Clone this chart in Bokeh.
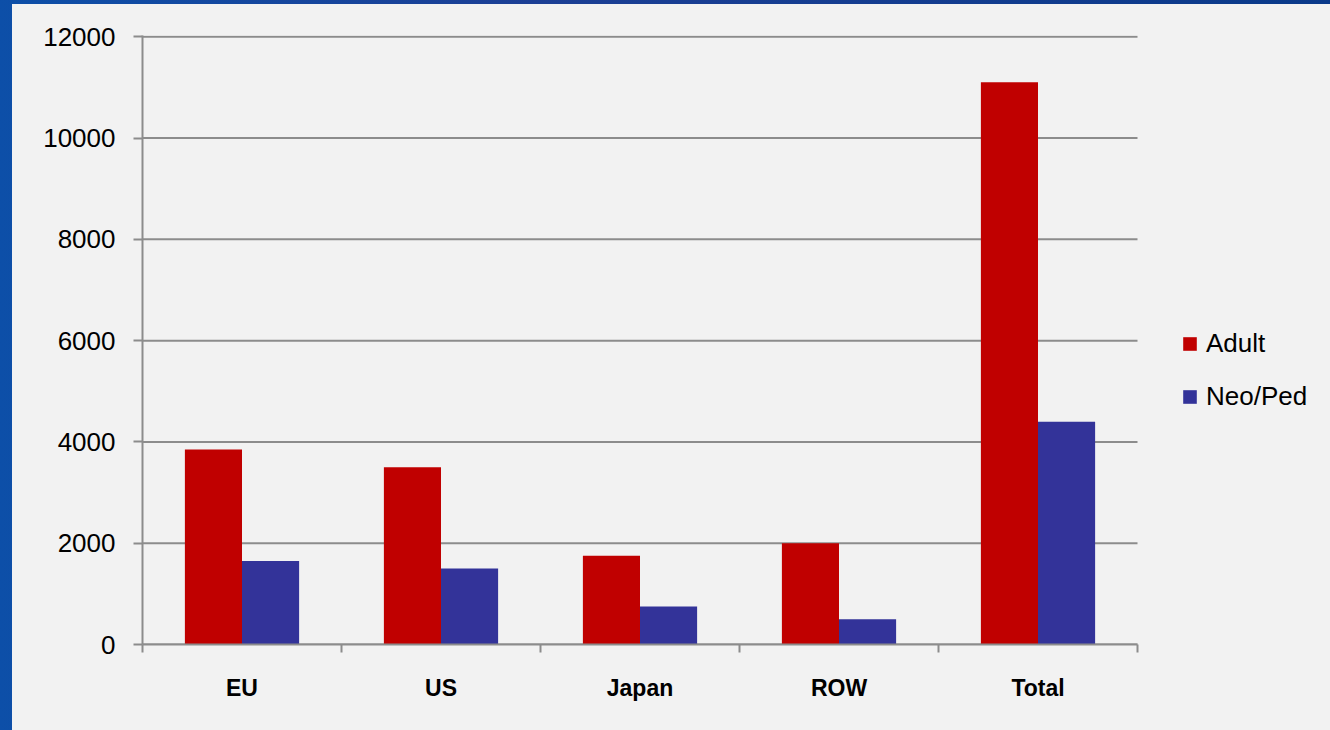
from bokeh.plotting import figure
from bokeh.models import ColumnDataSource, FixedTicker, Legend, LegendItem, Range1d
from bokeh.transform import dodge
from bokeh.layouts import column
from bokeh.embed import file_html
from bokeh.resources import INLINE

categories = ["EU", "US", "Japan", "ROW", "Total"]
adult = [3850, 3500, 1750, 2000, 11100]
neo_ped = [1650, 1500, 750, 500, 4400]
y_ticks = [0, 2000, 4000, 6000, 8000, 10000, 12000]

n = len(categories)
positions = [i + 0.5 for i in range(n)]
src = ColumnDataSource(dict(x=positions, adult=adult, neo=neo_ped))

RED = "#c00000"
BLUE = "#333399"
BG = "#f2f2f2"
GRAY = "#8c8c8c"

# frame extends into the legend area; chart area covers 995 of 1188 px
x_end = n * 1188 / 995
p = figure(width=1318, height=726, output_backend="svg", toolbar_location=None,
           x_range=Range1d(0, x_end), y_range=Range1d(0, 12025),
           background_fill_color=BG, border_fill_color=BG, outline_line_color=None,
           min_border_left=130, min_border_right=0, min_border_top=31, min_border_bottom=86)
p.styles = {"background-color": BG}

p.xgrid.grid_line_color = None
p.ygrid.grid_line_color = None

# horizontal gridlines limited to the category span
p.segment(x0=[0] * len(y_ticks), x1=[n] * len(y_ticks), y0=y_ticks, y1=y_ticks,
          line_color=GRAY, line_width=2, level="underlay")

bw = 0.287
r1 = p.vbar(x=dodge("x", -0.1435, range=p.x_range), top="adult", width=bw, source=src,
            fill_color=RED, line_color=None)
r2 = p.vbar(x=dodge("x", 0.1435, range=p.x_range), top="neo", width=bw, source=src,
            fill_color=BLUE, line_color=None)

# axes
xa = p.xaxis[0]
xa.bounds = (0, n)
xa.ticker = FixedTicker(ticks=positions, minor_ticks=list(range(n + 1)))
xa.major_label_overrides = {pos: c for pos, c in zip(positions, categories)}
xa.major_tick_line_color = None
xa.minor_tick_line_color = GRAY
xa.minor_tick_line_width = 2
xa.minor_tick_out = 8
xa.minor_tick_in = 0
xa.axis_line_color = GRAY
xa.axis_line_width = 2
xa.major_label_text_font = "Liberation Sans"
xa.major_label_text_font_style = "bold"
xa.major_label_text_font_size = "23px"
xa.major_label_text_color = "#000000"
xa.major_label_standoff = 22

ya = p.yaxis[0]
ya.ticker = FixedTicker(ticks=y_ticks)
ya.minor_tick_line_color = None
ya.major_tick_line_color = GRAY
ya.major_tick_line_width = 2
ya.major_tick_out = 9
ya.major_tick_in = 0
ya.axis_line_color = GRAY
ya.axis_line_width = 2
ya.major_label_text_font = "Liberation Sans"
ya.major_label_text_font_size = "26px"
ya.major_label_text_color = "#000000"
ya.major_label_standoff = 18

legend = Legend(items=[LegendItem(label="Adult", renderers=[r1]),
                       LegendItem(label="Neo/Ped", renderers=[r2])],
                location=(1039, 232), orientation="vertical",
                glyph_width=17, glyph_height=17, label_height=30, spacing=22,
                label_standoff=8, padding=0, margin=0,
                border_line_color=None, background_fill_alpha=0,
                label_text_font="Liberation Sans", label_text_font_size="26px",
                label_text_color="#000000")
p.add_layout(legend, "center")

lay = column(p, styles={"background": "linear-gradient(90deg, #0d4fa8 0%, #1c3f95 40%, #0a3a8a 100%)",
                        "padding": "4px 0 0 12px"})

open("out.html", "w").write(file_html(lay, INLINE))
